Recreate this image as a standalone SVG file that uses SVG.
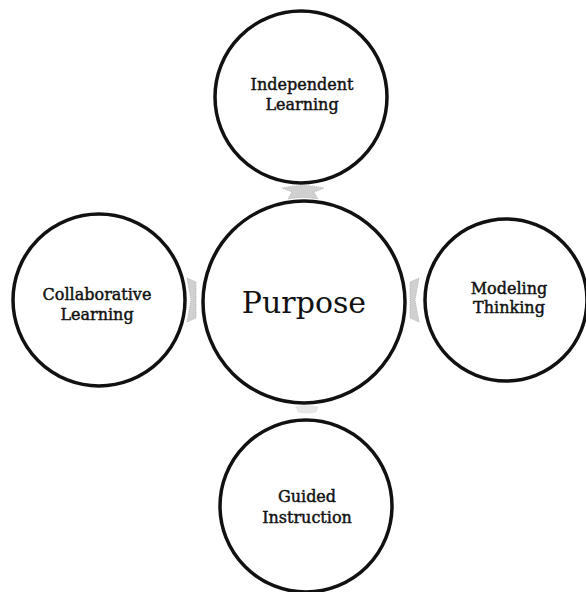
<svg xmlns="http://www.w3.org/2000/svg" width="586" height="592" viewBox="0 0 586 592">
<style>
.node{fill:#fff;stroke:#111;stroke-width:3.5}
.lbl{font-family:"DejaVu Serif","Liberation Serif",serif;font-size:16px;fill:#111;stroke:#111;stroke-width:0.45;text-anchor:middle}
.big{font-family:"DejaVu Serif","Liberation Serif",serif;font-size:30px;fill:#111;text-anchor:middle}
.conn{fill:#d0d0d0;stroke:#aaa;stroke-width:0.8;stroke-dasharray:1 1}
</style>
<rect width="586" height="592" fill="#fff"/>
<g id="connectors">
<path class="conn" d="M282,188 Q303,183 324,188 L314,192 L318,199 Q303,196 288,199 L292,192 Z"/>
<path class="conn" d="M187,278 L196,282 L196,318 L187,322 L191,300 Z"/>
<path class="conn" d="M419,278 L410,282 L410,318 L419,322 L415,300 Z"/>
<path class="conn" d="M296,407 Q306,404 318,407 L316,412 Q306,414 298,412 Z" opacity="0.5"/>
</g>
<g id="independent">
<circle class="node" cx="301" cy="97" r="86"/>
<text class="lbl" x="302" y="90">Independent</text>
<text class="lbl" x="302" y="110">Learning</text>
</g>
<g id="purpose">
<circle class="node" cx="304" cy="302" r="101"/>
<text class="big" x="304" y="313">Purpose</text>
</g>
<g id="collaborative">
<circle class="node" cx="99" cy="300" r="86"/>
<text class="lbl" x="97" y="300">Collaborative</text>
<text class="lbl" x="97" y="320">Learning</text>
</g>
<g id="modeling">
<circle class="node" cx="506" cy="300" r="81"/>
<text class="lbl" x="509" y="294">Modeling</text>
<text class="lbl" x="509" y="313">Thinking</text>
</g>
<g id="guided">
<circle class="node" cx="306" cy="506" r="86"/>
<text class="lbl" x="307" y="502">Guided</text>
<text class="lbl" x="307" y="523">Instruction</text>
</g>
</svg>
